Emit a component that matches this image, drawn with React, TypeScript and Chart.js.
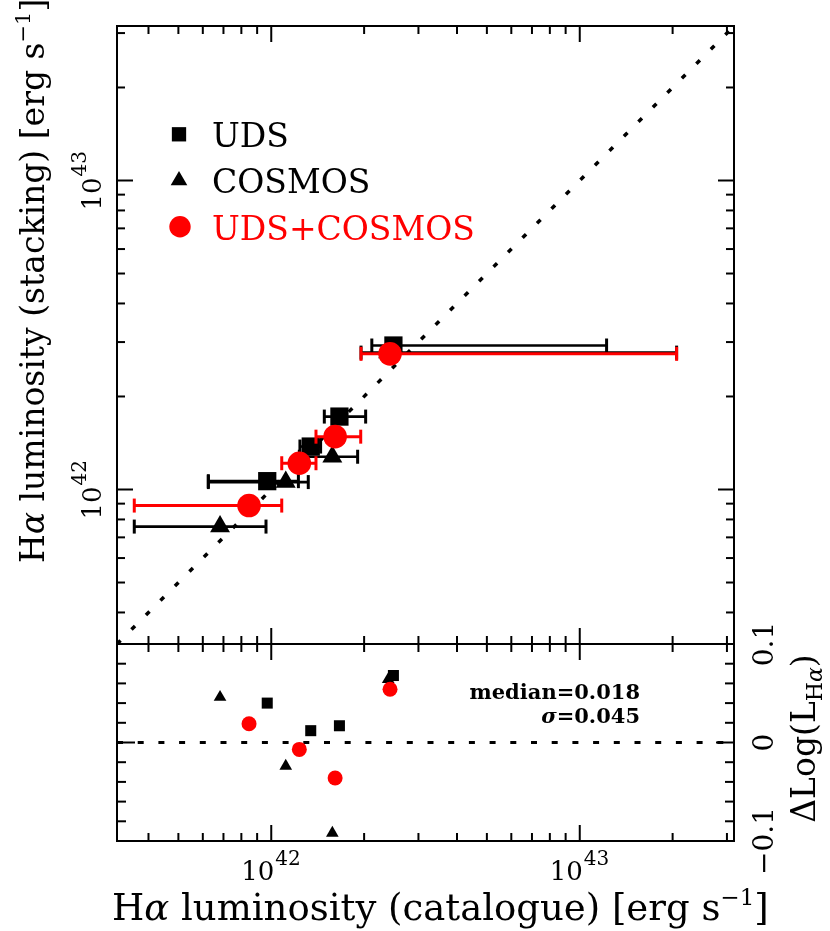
import React, { useEffect, useRef } from "react";
import { Chart, registerables } from "chart.js";

Chart.register(...registerables);

const RED = "#ff0000";
const BLACK = "#000000";
const SERIF = '"DejaVu Serif", serif';

// ---- data: log10 of H-alpha luminosity [erg/s] ----
const udsCatalogue = [41.987, 42.128, 42.221, 42.396];
const udsStacking = [42.027, 42.139, 42.236, 42.466];
const udsErrLow = [41.796, 42.093, 42.172, 42.326];
const udsErrHigh = [42.088, 42.16, 42.306, 43.087];
const udsResidual = [0.04, 0.012, 0.017, 0.068];

const cosmosCatalogue = [41.834, 42.047, 42.198, 42.379];
const cosmosStacking = [41.88, 42.024, 42.106, 42.443];
const cosmosErrLow = [41.556, 41.796, 42.091, 42.291];
const cosmosErrHigh = [41.983, 42.12, 42.28, 43.314];
const cosmosResidual = [0.046, -0.024, -0.092, 0.064];

const combCatalogue = [41.928, 42.091, 42.207, 42.385];
const combStacking = [41.948, 42.085, 42.171, 42.439];
const combErrLow = [41.556, 42.034, 42.145, 42.291];
const combErrHigh = [42.034, 42.145, 42.29, 43.314];
const combResidual = [0.019, -0.007, -0.036, 0.054];

const lumRange = [41.5, 43.5];
const residualRange = [-0.1, 0.1];
const lumMajorExponents = [42, 43];
const residualTicks = [0.1, 0, -0.1];
const residualTickLabels = ["0.1", "0", "\u22120.1"];
const legendNames = ["UDS", "COSMOS", "UDS+COSMOS"];
const medianLabel = "median=0.018";
const sigmaLabel = "=0.045";

const p10 = (v: number) => Math.pow(10, v);

type Seg = { t: string; font: string; dy?: number };

function drawRich(
  ctx: CanvasRenderingContext2D,
  segs: Seg[],
  x: number,
  y: number,
  align: "left" | "center" | "right",
  rot: number,
  color: string
) {
  ctx.save();
  ctx.translate(x, y);
  ctx.rotate(rot);
  ctx.fillStyle = color;
  ctx.textBaseline = "alphabetic";
  ctx.textAlign = "left";
  let w = 0;
  for (const s of segs) {
    ctx.font = s.font;
    w += ctx.measureText(s.t).width;
  }
  let cx = align === "left" ? 0 : align === "center" ? -w / 2 : -w;
  for (const s of segs) {
    ctx.font = s.font;
    ctx.fillText(s.t, cx, s.dy || 0);
    cx += ctx.measureText(s.t).width;
  }
  ctx.restore();
}

function drawPow(ctx: CanvasRenderingContext2D, x: number, y: number, exp: number, rot: number) {
  ctx.save();
  ctx.translate(x, y);
  ctx.rotate(rot);
  ctx.fillStyle = BLACK;
  ctx.textBaseline = "alphabetic";
  ctx.font = `26px ${SERIF}`;
  ctx.textAlign = "right";
  ctx.fillText("10", 3, 0);
  ctx.font = `20px ${SERIF}`;
  ctx.textAlign = "left";
  ctx.fillText(String(exp), 4, -15);
  ctx.restore();
}

function seg(ctx: CanvasRenderingContext2D, x1: number, y1: number, x2: number, y2: number) {
  ctx.beginPath();
  ctx.moveTo(x1, y1);
  ctx.lineTo(x2, y2);
  ctx.stroke();
}

function lumTickValues(): { v: number; major: boolean }[] {
  const out: { v: number; major: boolean }[] = [];
  for (let e = Math.floor(lumRange[0]); e <= Math.ceil(lumRange[1]); e++) {
    for (let k = 1; k <= 9; k++) {
      const lv = Math.log10(k) + e;
      if (lv < lumRange[0] - 1e-9 || lv > lumRange[1] + 1e-9) continue;
      out.push({ v: k * Math.pow(10, e), major: k === 1 });
    }
  }
  return out;
}

function markerSet(label: string, xs: number[], ys: number[], style: string, radius: number, color: string, order: number, logY: boolean) {
  return {
    label,
    data: xs.map((x, i) => ({ x: p10(x), y: logY ? p10(ys[i]) : ys[i] })),
    showLine: false,
    pointStyle: style,
    pointRadius: radius,
    pointHoverRadius: radius,
    pointBackgroundColor: color,
    backgroundColor: color,
    pointBorderColor: color,
    borderColor: color,
    pointBorderWidth: 0,
    borderWidth: 0,
    order,
  };
}

function errorSets(ys: number[], lo: number[], hi: number[], color: string, width: number, order: number) {
  return ys.map((y, i) => ({
    label: "err",
    data: [
      { x: p10(lo[i]), y: p10(y) },
      { x: p10(hi[i]), y: p10(y) },
    ],
    showLine: true,
    tension: 0,
    borderColor: color,
    borderWidth: width,
    backgroundColor: color,
    pointStyle: "line",
    pointRotation: 90,
    pointRadius: 7,
    pointHoverRadius: 7,
    pointBorderWidth: 3,
    pointBorderColor: color,
    pointBackgroundColor: color,
    order,
  }));
}

const topPlugin = {
  id: "topDecor",
  afterDatasetsDraw(chart: any) {
    const ctx: CanvasRenderingContext2D = chart.ctx;
    const a = chart.chartArea;
    const xs = chart.scales.x;
    const ys = chart.scales.y;
    ctx.save();
    ctx.strokeStyle = BLACK;
    ctx.lineWidth = 2;
    ctx.strokeRect(a.left, a.top, a.right - a.left, a.bottom - a.top);
    for (const t of lumTickValues()) {
      const len = t.major ? 16 : 8;
      const px = xs.getPixelForValue(t.v);
      seg(ctx, px, a.bottom, px, a.bottom - len);
      seg(ctx, px, a.top, px, a.top + len);
      const py = ys.getPixelForValue(t.v);
      seg(ctx, a.left, py, a.left + len, py);
      seg(ctx, a.right, py, a.right - len, py);
    }
    for (const e of lumMajorExponents) {
      drawPow(ctx, 101, ys.getPixelForValue(p10(e)), e, -Math.PI / 2);
    }
    const f = `33px ${SERIF}`;
    drawRich(
      ctx,
      [
        { t: "H", font: f },
        { t: "\u03b1", font: `italic 33px ${SERIF}` },
        { t: " luminosity (stacking) [erg s", font: f },
        { t: "\u22121", font: `21px ${SERIF}`, dy: -14 },
        { t: "]", font: f },
      ],
      44,
      563,
      "left",
      -Math.PI / 2,
      BLACK
    );
    // legend
    ctx.fillStyle = BLACK;
    ctx.fillRect(179 - 7.15, 134.3 - 7.15, 14.3, 14.3);
    const r = 9.6;
    ctx.beginPath();
    ctx.moveTo(179, 180.5 - r);
    ctx.lineTo(179 + r * Math.sin((2 * Math.PI) / 3), 180.5 + r / 2);
    ctx.lineTo(179 - r * Math.sin((2 * Math.PI) / 3), 180.5 + r / 2);
    ctx.closePath();
    ctx.fill();
    ctx.fillStyle = RED;
    ctx.beginPath();
    ctx.arc(180, 226.7, 10.7, 0, Math.PI * 2);
    ctx.fill();
    const lf = `33px ${SERIF}`;
    drawRich(ctx, [{ t: legendNames[0], font: lf }], 212, 146.7, "left", 0, BLACK);
    drawRich(ctx, [{ t: legendNames[1], font: lf }], 212, 193.3, "left", 0, BLACK);
    drawRich(ctx, [{ t: legendNames[2], font: lf }], 212, 240, "left", 0, RED);
    ctx.restore();
  },
};

const bottomPlugin = {
  id: "bottomDecor",
  afterDatasetsDraw(chart: any) {
    const ctx: CanvasRenderingContext2D = chart.ctx;
    const a = chart.chartArea;
    const xs = chart.scales.x;
    const ys = chart.scales.y;
    ctx.save();
    ctx.strokeStyle = BLACK;
    ctx.lineWidth = 2;
    ctx.strokeRect(a.left, a.top, a.right - a.left, a.bottom - a.top);
    for (const t of lumTickValues()) {
      const len = t.major ? 16 : 8;
      const px = xs.getPixelForValue(t.v);
      seg(ctx, px, a.bottom, px, a.bottom - len);
      seg(ctx, px, a.top, px, a.top + len);
    }
    for (let i = -5; i <= 5; i++) {
      const v = i * 0.02;
      const len = i === 0 ? 18 : 9;
      const py = ys.getPixelForValue(v);
      seg(ctx, a.left, py, a.left + len, py);
      seg(ctx, a.right, py, a.right - len, py);
    }
    for (const e of lumMajorExponents) {
      drawPow(ctx, xs.getPixelForValue(p10(e)), a.bottom + 39, e, 0);
    }
    const f = `37px ${SERIF}`;
    drawRich(
      ctx,
      [
        { t: "H", font: f },
        { t: "\u03b1", font: `italic 37px ${SERIF}` },
        { t: " luminosity (catalogue) [erg s", font: f },
        { t: "\u22121", font: `23px ${SERIF}`, dy: -15 },
        { t: "]", font: f },
      ],
      112,
      a.bottom + 79,
      "left",
      0,
      BLACK
    );
    residualTicks.forEach((v, i) => {
      drawRich(ctx, [{ t: residualTickLabels[i], font: `28px ${SERIF}` }], 773, ys.getPixelForValue(v), "center", -Math.PI / 2, BLACK);
    });
    drawRich(
      ctx,
      [
        { t: "\u0394Log(L", font: `33px ${SERIF}` },
        { t: "H", font: `22px ${SERIF}`, dy: 7 },
        { t: "\u03b1", font: `italic 22px ${SERIF}`, dy: 7 },
        { t: ")", font: `33px ${SERIF}` },
      ],
      815,
      ys.getPixelForValue(0) - 4,
      "center",
      -Math.PI / 2,
      BLACK
    );
    drawRich(ctx, [{ t: medianLabel, font: `bold 21px ${SERIF}` }], 640, ys.getPixelForValue(0) - 44, "right", 0, BLACK);
    drawRich(
      ctx,
      [
        { t: "\u03c3", font: `italic bold 21px ${SERIF}` },
        { t: sigmaLabel, font: `bold 21px ${SERIF}` },
      ],
      640,
      ys.getPixelForValue(0) - 20,
      "right",
      0,
      BLACK
    );
    ctx.restore();
  },
};

function topConfig(): any {
  return {
    type: "scatter",
    data: {
      datasets: [
        markerSet("UDS+COSMOS", combCatalogue, combStacking, "circle", 11.8, RED, 0, true),
        ...errorSets(combStacking, combErrLow, combErrHigh, RED, 3, 1),
        markerSet("UDS", udsCatalogue, udsStacking, "rect", 12.9, BLACK, 2, true),
        markerSet("COSMOS", cosmosCatalogue, cosmosStacking, "triangle", 11.5, BLACK, 2, true),
        ...errorSets(udsStacking, udsErrLow, udsErrHigh, BLACK, 2.6, 3),
        ...errorSets(cosmosStacking, cosmosErrLow, cosmosErrHigh, BLACK, 2.6, 3),
        {
          label: "one-to-one",
          data: [
            { x: p10(lumRange[0]), y: p10(lumRange[0]) },
            { x: p10(lumRange[1]), y: p10(lumRange[1]) },
          ],
          showLine: true,
          borderColor: BLACK,
          borderWidth: 3.5,
          borderDash: [5, 15.5],
          pointRadius: 0,
          pointHoverRadius: 0,
          order: 10,
        },
      ],
    },
    options: {
      responsive: false,
      animation: false,
      devicePixelRatio: 1,
      events: [],
      layout: { padding: { left: 117, right: 96, top: 26, bottom: 16 } },
      plugins: { legend: { display: false }, tooltip: { enabled: false }, title: { display: false } },
      scales: {
        x: { type: "logarithmic", min: p10(lumRange[0]), max: p10(lumRange[1]), display: false },
        y: { type: "logarithmic", min: p10(lumRange[0]), max: p10(lumRange[1]), display: false },
      },
    },
    plugins: [topPlugin],
  };
}

function bottomConfig(): any {
  return {
    type: "scatter",
    data: {
      datasets: [
        markerSet("UDS+COSMOS", combCatalogue, combResidual, "circle", 7.5, RED, 0, false),
        markerSet("UDS", udsCatalogue, udsResidual, "rect", 7.8, BLACK, 1, false),
        markerSet("COSMOS", cosmosCatalogue, cosmosResidual, "triangle", 7.3, BLACK, 1, false),
        {
          label: "zero",
          data: [
            { x: p10(lumRange[0]), y: 0 },
            { x: p10(lumRange[1]), y: 0 },
          ],
          showLine: true,
          borderColor: BLACK,
          borderWidth: 3,
          borderDash: [6, 14.7],
          pointRadius: 0,
          pointHoverRadius: 0,
          order: 10,
        },
      ],
    },
    options: {
      responsive: false,
      animation: false,
      devicePixelRatio: 1,
      events: [],
      layout: { padding: { left: 117, right: 96, top: 24, bottom: 90 } },
      plugins: { legend: { display: false }, tooltip: { enabled: false }, title: { display: false } },
      scales: {
        x: { type: "logarithmic", min: p10(lumRange[0]), max: p10(lumRange[1]), display: false },
        y: { type: "linear", min: residualRange[0], max: residualRange[1], display: false },
      },
    },
    plugins: [bottomPlugin],
  };
}

export default function App() {
  const topRef = useRef<HTMLCanvasElement>(null);
  const botRef = useRef<HTMLCanvasElement>(null);
  useEffect(() => {
    const top = new Chart(topRef.current as HTMLCanvasElement, topConfig());
    const bot = new Chart(botRef.current as HTMLCanvasElement, bottomConfig());
    return () => {
      top.destroy();
      bot.destroy();
    };
  }, []);
  return (
    <div style={{ position: "absolute", left: 0, top: 0, width: 830, height: 931, background: "#fff", overflow: "hidden" }}>
      <canvas ref={topRef} width={830} height={660} style={{ position: "absolute", left: 0, top: 0, width: 830, height: 660 }} />
      <canvas ref={botRef} width={830} height={311} style={{ position: "absolute", left: 0, top: 620, width: 830, height: 311 }} />
    </div>
  );
}
